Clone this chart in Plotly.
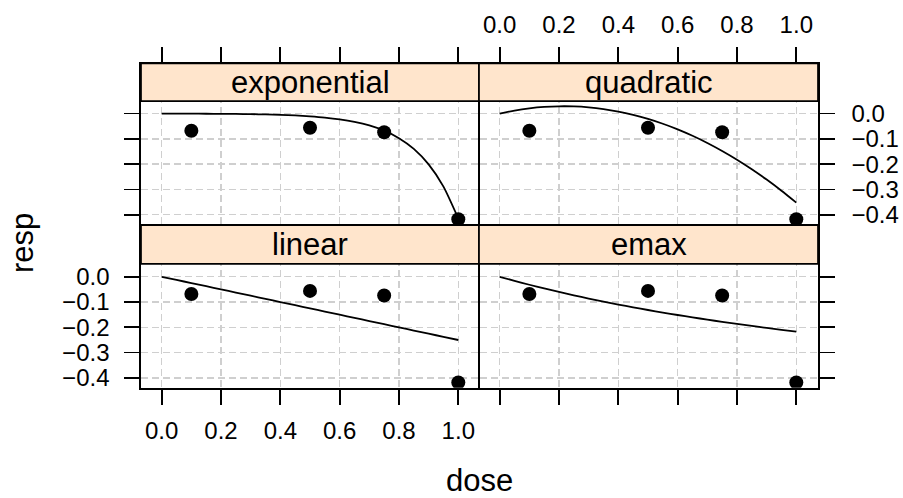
import plotly.graph_objects as go

# ---------------- data ----------------
panels = ["exponential", "quadratic", "linear", "emax"]

dose = [0.1, 0.5, 0.75, 1.0]
resp = [-0.068, -0.056, -0.074, -0.418]

curve_dose = [0.0, 0.05, 0.1, 0.15, 0.2, 0.25, 0.3, 0.35, 0.4, 0.45, 0.5,
              0.55, 0.6, 0.65, 0.7, 0.75, 0.8, 0.85, 0.9, 0.95, 1.0]
fit_exponential = [0.0, -0.0001, -0.0003, -0.0006, -0.001, -0.0015, -0.0023,
                   -0.0034, -0.0051, -0.0074, -0.0108, -0.0156, -0.0226,
                   -0.0326, -0.0469, -0.0676, -0.0972, -0.1397, -0.2009,
                   -0.2887, -0.4147]
fit_quadratic = [0.0, 0.0119, 0.0206, 0.0263, 0.0288, 0.0283, 0.0246, 0.0179,
                 0.008, -0.005, -0.021, -0.0402, -0.0624, -0.0878, -0.1162,
                 -0.1478, -0.1824, -0.2202, -0.261, -0.305, -0.352]
fit_linear = [0.0, -0.0125, -0.025, -0.0375, -0.05, -0.0625, -0.075, -0.0875,
              -0.1, -0.1125, -0.125, -0.1375, -0.15, -0.1625, -0.175, -0.1875,
              -0.2, -0.2125, -0.225, -0.2375, -0.25]
fit_emax = [0.0, -0.0162, -0.0316, -0.0463, -0.0602, -0.0735, -0.0861, -0.0982,
            -0.1097, -0.1208, -0.1314, -0.1415, -0.1512, -0.1606, -0.1695,
            -0.1782, -0.1865, -0.1945, -0.2022, -0.2096, -0.2168]

fits = {"exponential": fit_exponential, "quadratic": fit_quadratic,
        "linear": fit_linear, "emax": fit_emax}

x_ticks = [0.0, 0.2, 0.4, 0.6, 0.8, 1.0]
y_ticks = [0.0, -0.1, -0.2, -0.3, -0.4]

# ---------------- layout geometry (pixels) ----------------
W, H = 903, 498
FONT = "Liberation Sans, Arial, sans-serif"
STRIP_BG = "#ffe5cc"
GRID = "#cfcfcf"
LW = 1.7
HALF = LW / 2

# domains are inset by half a line width on shared borders so lines overlap
col_px = [(141, 479 - HALF), (479 + HALF, 818)]
# row: (domain_top, strip_top, panel_top, panel_bottom, domain_bottom)
row_px = [(64, 64, 102, 227, 227 - HALF), (227 + HALF, 227, 266, 391, 391)]
PX_PER_UNIT = 255.0
zero_px = [114.5, 279.0]

def px_x(p):
    return p / W

def px_y(p):
    return 1 - p / H

pos = {"exponential": (0, 0), "quadratic": (0, 1), "linear": (1, 0), "emax": (1, 1)}

fig = go.Figure()
layout = dict(
    width=W, height=H, autosize=False,
    margin=dict(l=0, r=0, t=0, b=0),
    paper_bgcolor="white", plot_bgcolor="white",
    showlegend=False,
    font=dict(family=FONT, color="black"),
)
shapes = []
annotations = []

for i, name in enumerate(panels):
    r, c = pos[name]
    k = "" if i == 0 else str(i + 1)
    xa, ya = "x" + k, "y" + k
    dt, st, pt, pb, db = row_px[r]
    x0, x1 = col_px[c]
    ytop = (zero_px[r] - dt) / PX_PER_UNIT
    ybot = -(db - zero_px[r]) / PX_PER_UNIT

    fig.add_trace(go.Scatter(x=curve_dose, y=fits[name], mode="lines",
                             line=dict(color="black", width=1.8, shape="spline", smoothing=0.6),
                             xaxis=xa, yaxis=ya, hoverinfo="skip"))
    fig.add_trace(go.Scatter(x=dose, y=resp, mode="markers",
                             marker=dict(color="black", size=14),
                             xaxis=xa, yaxis=ya, hoverinfo="skip"))

    common = dict(showline=True, mirror=True, linecolor="black", linewidth=LW,
                  ticks="outside", ticklen=15, tickwidth=LW, tickcolor="black",
                  zeroline=False, showgrid=True, gridcolor=GRID, gridwidth=1.4,
                  griddash="7px,4px",
                  tickfont=dict(family=FONT, size=24, color="black"),
                  tickformat=".1f")

    # x range: 0..1 spans 296.6 px with the panel left edge 20.7 px before 0
    full_x0, full_x1 = (141, 479) if c == 0 else (479, 818)
    zx = full_x0 + 20.7
    pxu = 296.6
    xr = [(x0 - zx) / pxu, (x1 - zx) / pxu]

    xax = dict(common, domain=[px_x(x0), px_x(x1)], range=xr,
               tickvals=x_ticks, anchor=ya,
               side="top" if r == 0 else "bottom",
               ticklabelstandoff=4 if r == 0 else 6,
               showticklabels=(name in ("quadratic", "linear")))
    yax = dict(common, domain=[px_y(db), px_y(dt)], range=[ybot, ytop],
               tickvals=y_ticks, anchor=xa,
               side="left" if c == 0 else "right",
               ticklabelstandoff=10 if c == 0 else 12,
               showticklabels=(name in ("quadratic", "linear")))
    layout["xaxis" + k] = xax
    layout["yaxis" + k] = yax

    # strip
    shapes.append(dict(type="rect", xref="paper", yref="paper",
                       x0=px_x(full_x0), x1=px_x(full_x1), y0=px_y(pt), y1=px_y(st),
                       fillcolor=STRIP_BG, line=dict(color="black", width=LW),
                       layer="above"))
    annotations.append(dict(text=name, xref="paper", yref="paper",
                            x=px_x((full_x0 + full_x1) / 2), y=px_y((st + pt) / 2),
                            xanchor="center", yanchor="middle", showarrow=False,
                            font=dict(family=FONT, size=31, color="black")))

annotations.append(dict(text="resp", xref="paper", yref="paper",
                        x=px_x(22), y=px_y(245), textangle=-90,
                        xanchor="center", yanchor="middle", showarrow=False,
                        font=dict(family=FONT, size=31, color="black")))
annotations.append(dict(text="dose", xref="paper", yref="paper",
                        x=px_x(479.5), y=px_y(484),
                        xanchor="center", yanchor="middle", showarrow=False,
                        font=dict(family=FONT, size=31, color="black")))

layout["shapes"] = shapes
layout["annotations"] = annotations
fig.update_layout(**layout)
fig.write_html("out.html",
               config={"displayModeBar": False, "staticPlot": True},
               post_script="document.body.style.margin='0';document.body.style.padding='0';")
